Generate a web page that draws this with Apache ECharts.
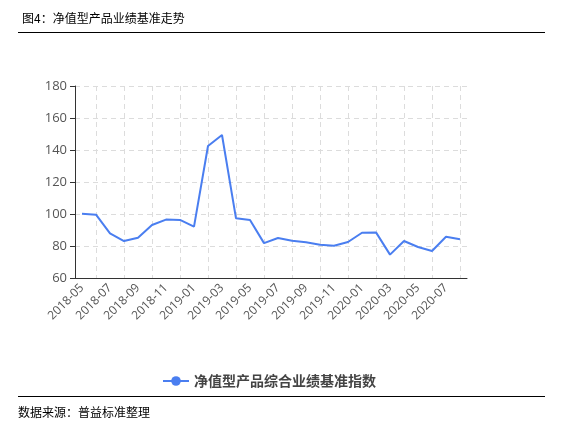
<!DOCTYPE html>
<html>
<head>
<meta charset="utf-8">
<script src="https://cdn.jsdelivr.net/npm/echarts@6/dist/echarts.min.js"></script>
<style>
  html, body { margin: 0; padding: 0; background: #fff; }
  #chart { width: 567px; height: 426px; }
</style>
</head>
<body>
<div id="chart"></div>
<script>
// Monthly categories, 2018-05 .. 2020-08
const months = [
  '2018-05','2018-06','2018-07','2018-08','2018-09','2018-10','2018-11','2018-12',
  '2019-01','2019-02','2019-03','2019-04','2019-05','2019-06','2019-07','2019-08',
  '2019-09','2019-10','2019-11','2019-12','2020-01','2020-02','2020-03','2020-04',
  '2020-05','2020-06','2020-07','2020-08'
];

// Composite performance benchmark index for NAV-type products
const benchmarkIndex = [
  100.2, 99.6, 87.9, 83.1, 85.2, 93.1, 96.5, 96.3,
  92.1, 142.5, 149.4, 97.3, 96.3, 81.8, 85.0, 83.3,
  82.3, 80.8, 80.2, 82.5, 88.3, 88.5, 74.6, 83.1,
  79.4, 76.9, 85.8, 84.2
];

const seriesName = '净值型产品综合业绩基准指数';
const titleText = '图4：净值型产品业绩基准走势';
const sourceText = '数据来源：普益标准整理';

const yMin = 60, yMax = 180, yStep = 20;

const chart = echarts.init(document.getElementById('chart'), null, { renderer: 'canvas' });
const axisFont = 'Open Sans, sans-serif';
const cjkFont = '"Noto Sans CJK SC", sans-serif';

chart.setOption({
  animation: false,
  backgroundColor: '#fff',
  title: {
    text: titleText,
    left: 17,
    top: 7,
    textStyle: { fontFamily: cjkFont, fontSize: 12, fontWeight: 'normal', color: '#000' }
  },
  grid: { left: 75, right: 100, top: 86, bottom: 148, containLabel: false },
  legend: {
    data: [seriesName],
    left: 157,
    top: 369,
    itemWidth: 26,
    itemHeight: 12,
    itemGap: 6,
    textStyle: { fontFamily: cjkFont, fontSize: 14, fontWeight: 'bold', color: '#444' }
  },
  xAxis: {
    type: 'category',
    data: months,
    boundaryGap: true,
    axisLine: { lineStyle: { color: '#333', width: 1 } },
    axisTick: { alignWithLabel: true, interval: 1, length: 5, lineStyle: { color: '#333' } },
    axisLabel: {
      interval: 1,
      rotate: 45,
      margin: 8,
      fontFamily: axisFont,
      fontSize: 12,
      color: '#555'
    },
    splitLine: {
      show: true,
      alignWithLabel: true,
      interval: function (idx) { return idx % 2 === 1; },
      lineStyle: { color: '#dcdcdc', type: [5, 4], width: 1 }
    }
  },
  yAxis: {
    type: 'value',
    min: yMin,
    max: yMax,
    interval: yStep,
    axisLine: { show: true, lineStyle: { color: '#333', width: 1 } },
    axisTick: { show: true, length: 5, lineStyle: { color: '#333' } },
    axisLabel: { margin: 8, fontFamily: axisFont, fontSize: 13, color: '#555' },
    splitLine: { show: true, lineStyle: { color: '#dcdcdc', type: [5, 4], width: 1 } }
  },
  series: [{
    name: seriesName,
    type: 'line',
    data: benchmarkIndex,
    symbol: 'circle',
    showSymbol: false,
    symbolSize: 8,
    smooth: false,
    lineStyle: { color: '#4a7ef0', width: 2 },
    itemStyle: { color: '#4a7ef0' }
  }],
  graphic: [
    { type: 'line', shape: { x1: 18, y1: 32.5, x2: 545, y2: 32.5 }, style: { stroke: '#000', lineWidth: 1.2 } },
    { type: 'line', shape: { x1: 18, y1: 396.5, x2: 545, y2: 396.5 }, style: { stroke: '#000', lineWidth: 1.2 } },
    {
      type: 'text',
      left: 18,
      top: 406,
      style: { text: sourceText, fontFamily: cjkFont, fontSize: 12, fill: '#000' }
    }
  ]
});
</script>
</body>
</html>
